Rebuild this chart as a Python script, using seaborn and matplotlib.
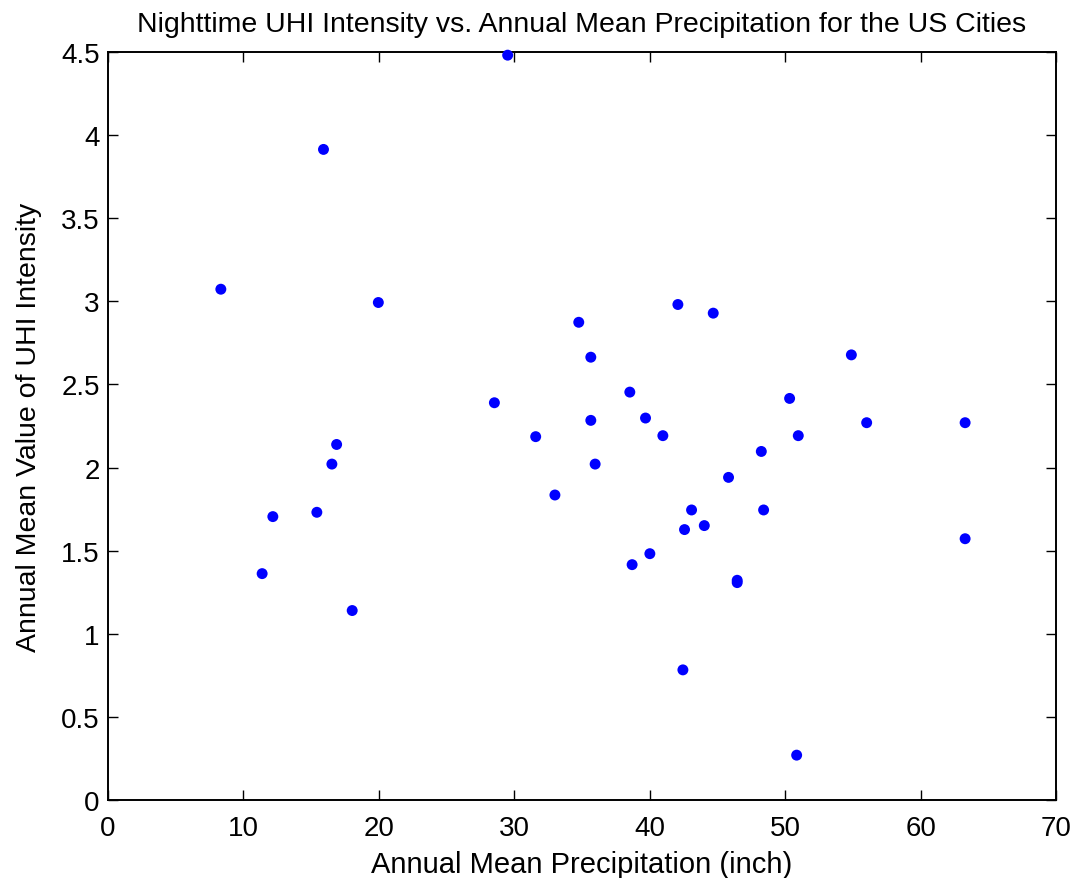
import numpy as np
import pandas as pd
import matplotlib
matplotlib.use("Agg")
import matplotlib.pyplot as plt
import seaborn as sns

# annual mean precipitation (inch) and nighttime UHI intensity per city
precip = [8.33, 11.38, 12.17, 15.42, 15.91, 16.53, 16.88, 18.03, 19.96, 28.53,
          29.51, 31.58, 33.0, 34.76, 35.65, 35.65, 35.97, 38.53, 38.70, 39.69,
          40.01, 40.97, 42.08, 42.45, 42.57, 43.09, 44.03, 44.69, 45.82, 46.46,
          46.46, 48.24, 48.41, 50.33, 50.85, 50.97, 54.89, 56.02, 63.29, 63.29]
uhi = [3.073, 1.362, 1.705, 1.731, 3.914, 2.021, 2.139, 1.140, 2.993, 2.390,
       4.481, 2.186, 1.835, 2.874, 2.664, 2.284, 2.021, 2.454, 1.416, 2.298,
       1.482, 2.192, 2.981, 0.783, 1.627, 1.745, 1.651, 2.929, 1.941, 1.322,
       1.308, 2.097, 1.745, 2.416, 0.270, 2.192, 2.678, 2.270, 2.270, 1.572]

xticks = [0, 10, 20, 30, 40, 50, 60, 70]
yticks = [0, 0.5, 1, 1.5, 2, 2.5, 3, 3.5, 4, 4.5]

sns.set_style("ticks")
plt.rcParams['font.family'] = ['Liberation Sans', 'DejaVu Sans']
plt.rcParams['text.color'] = 'black'
plt.rcParams['axes.labelcolor'] = 'black'

df = pd.DataFrame({"precip": precip, "uhi": uhi})

fig = plt.figure(figsize=(10.76, 8.79), dpi=100)
ax = fig.add_axes([0.1004, 0.0887, 0.8810, 0.8510])
sns.scatterplot(data=df, x="precip", y="uhi", ax=ax, color="#0000ff",
                edgecolor="none", s=62, zorder=3, clip_on=False)

ax.set_xlim(0, 70)
ax.set_ylim(0, 4.5)
ax.set_xticks(xticks)
ax.set_yticks(yticks)
ax.set_yticklabels([("%g" % v) for v in yticks])
ax.tick_params(direction="in", length=7, width=1, top=True, right=True,
               labelsize=20, colors="black")
ax.tick_params(axis="x", pad=11)
ax.tick_params(axis="y", pad=6)
for sp in ax.spines.values():
    sp.set_visible(True)
    sp.set_linewidth(1.4)
    sp.set_color("black")

ax.set_title("Nighttime UHI Intensity vs. Annual Mean Precipitation for the US Cities",
             fontsize=20.5, pad=15)
ax.set_xlabel("Annual Mean Precipitation (inch)", fontsize=21, labelpad=6)
ax.set_ylabel("Annual Mean Value of UHI Intensity", fontsize=20.5, labelpad=14)

fig.savefig("out.png", dpi=100)
